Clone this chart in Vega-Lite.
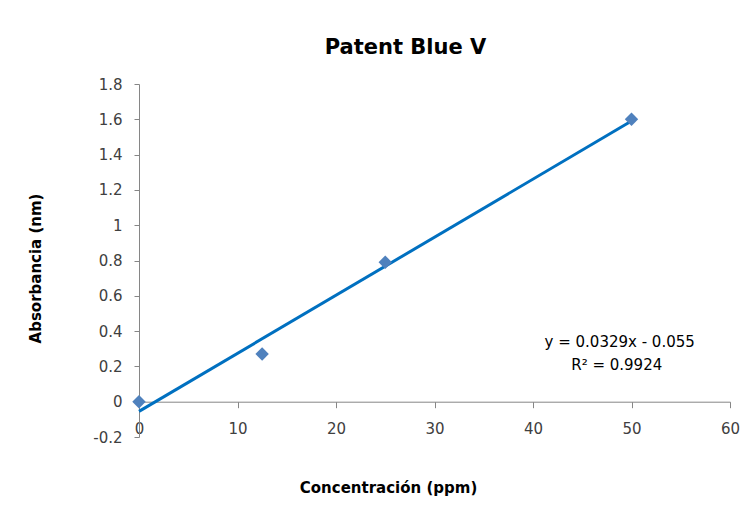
{
  "$schema": "https://vega.github.io/schema/vega-lite/v6.json",
  "autosize": "none",
  "width": 591,
  "height": 353,
  "padding": {"left": 139, "top": 84, "right": 20, "bottom": 77},
  "background": "white",
  "config": {
    "view": {"stroke": null},
    "font": "DejaVu Sans",
    "axis": {"grid": false, "domainColor": "#868686", "tickColor": "#868686", "labelColor": "#404040", "labelFontSize": 15, "labelFont": "DejaVu Sans", "titleFont": "DejaVu Sans", "titleColor": "#000000", "labelOverlap": false, "labelFlush": false}
  },
  "title": {"text": "Patent Blue V", "fontSize": 21, "fontWeight": "bold", "font": "DejaVu Sans", "color": "#000000", "anchor": "middle", "dx": -29, "offset": 19},
  "datasets": {
    "points": [
      {"conc": 0, "abs": 0},
      {"conc": 12.5, "abs": 0.27},
      {"conc": 25, "abs": 0.79},
      {"conc": 50, "abs": 1.6}
    ],
    "trend": [
      {"conc": 0, "abs": -0.055},
      {"conc": 50, "abs": 1.59}
    ],
    "eq": [
      {"conc": 48.8, "abs": 0.34, "label": "y = 0.0329x - 0.055"},
      {"conc": 48.5, "abs": 0.21, "label": "R² = 0.9924"}
    ]
  },
  "encoding": {
    "x": {"field": "conc", "type": "quantitative", "scale": {"domain": [0, 60]},
      "axis": {"title": "Concentración (ppm)", "values": [0,10,20,30,40,50,60], "labelOverlap": false, "offset": -35.3, "tickSize": 6, "labelPadding": 14, "titleFontSize": 15, "titleFontWeight": "bold", "titleX": 249, "titleY": 86, "titleBaseline": "middle", "titleAnchor": "start", "titleAlign": "center"}},
    "y": {"field": "abs", "type": "quantitative", "scale": {"domain": [-0.2, 1.8], "nice": false},
      "axis": {"title": "Absorbancia (nm)", "values": [-0.2,0,0.2,0.4,0.6,0.8,1,1.2,1.4,1.6,1.8], "labelOverlap": false, "labelExpr": "replace(format(datum.value, '.1~f'), '−', '-')", "tickSize": 5, "labelPadding": 12, "titleFontSize": 15, "titleFontWeight": "bold", "titleX": -104, "titleY": 184, "titleAngle": 270, "titleBaseline": "middle", "titleAlign": "center", "titleAnchor": "start"}}
  },
  "layer": [
    {
      "data": {"name": "trend"},
      "mark": {"type": "line", "color": "#0070C0", "strokeWidth": 3}
    },
    {
      "data": {"name": "points"},
      "mark": {"type": "point", "shape": "diamond", "filled": true, "color": "#4F81BD", "size": 180, "opacity": 1}
    },
    {
      "data": {"name": "eq"},
      "mark": {"type": "text", "fontSize": 15, "color": "#000000", "font": "DejaVu Sans", "align": "center", "baseline": "middle"},
      "encoding": {
        "text": {"field": "label"}
      }
    }
  ]
}
